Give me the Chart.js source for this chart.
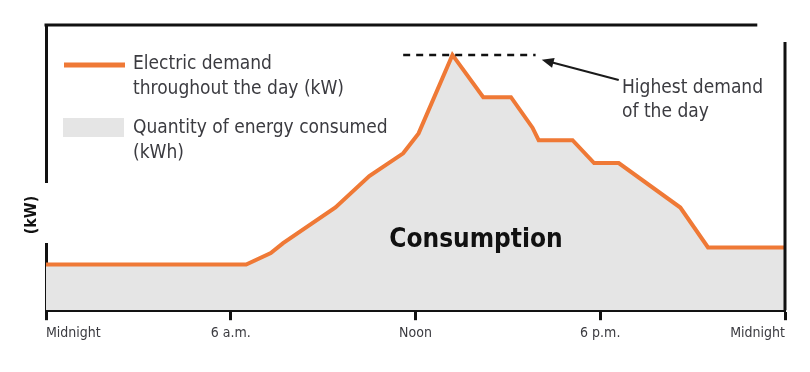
<!DOCTYPE html>
<html>
<head>
<meta charset="utf-8">
<script src="https://cdn.jsdelivr.net/npm/chart.js@4"></script>
<style>
  html, body { margin: 0; padding: 0; background: #fff; }
  #wrap { width: 810px; height: 372px; }
</style>
</head>
<body>
<div id="wrap"><canvas id="demandChart" width="810" height="372"></canvas></div>
<script>
// hours of the day (0 = midnight) and demand in kW
const hours  = [0, 6.5, 7.3, 7.7, 9.4, 10.5, 11.6, 12.1, 13.2, 14.2, 15.1, 15.8, 16.0, 17.1, 17.8, 18.6, 20.6, 21.5, 24];
const demand = [16, 16, 20, 23.5, 36, 47, 55, 62, 89.5, 74.7, 74.7, 64, 59.6, 59.6, 51.6, 51.6, 36, 22, 22];

const tickHours  = [0, 6, 12, 18, 24];
const tickLabels = ["Midnight", "6 a.m.", "Noon", "6 p.m.", "Midnight"];

// dashed peak marker and the arrow pointing to it
const peakHours  = [11.6, 15.9];
const peakValue  = 89.5;
const arrowFrom  = [18.6, 80.7];
const arrowTo    = [16.1, 87.8];

const narrow = "'Liberation Sans Narrow', 'DejaVu Sans Condensed', 'Roboto Condensed', sans-serif";
const orange = "#ef7936";
const fillGray = "#e5e5e5";
const textGray = "#3b3b40";

const decorations = {
  id: "decorations",
  afterDraw(chart) {
    const ctx = chart.ctx;
    const x = chart.scales.x, y = chart.scales.y;
    const area = chart.chartArea;
    ctx.save();

    // frame: top and right lines
    ctx.strokeStyle = "#111";
    ctx.lineWidth = 3;
    ctx.beginPath();
    ctx.moveTo(area.left - 1.5, area.top);
    ctx.lineTo(x.getPixelForValue(23.1), area.top);
    ctx.moveTo(area.right, y.getPixelForValue(94));
    ctx.lineTo(area.right, area.bottom);
    ctx.stroke();

    // break in the left axis for the (kW) label
    ctx.fillStyle = "#fff";
    ctx.fillRect(area.left - 4, 183, 8, 60);
    ctx.save();
    ctx.translate(32, 215);
    ctx.rotate(-Math.PI / 2);
    ctx.fillStyle = "#111";
    ctx.font = "bold 16px " + narrow;
    ctx.textAlign = "center";
    ctx.textBaseline = "middle";
    ctx.fillText("(kW)", 0, 0);
    ctx.restore();

    // arrow to the peak
    const fx = x.getPixelForValue(arrowFrom[0]), fy = y.getPixelForValue(arrowFrom[1]);
    const tx = x.getPixelForValue(arrowTo[0]), ty = y.getPixelForValue(arrowTo[1]);
    const ang = Math.atan2(ty - fy, tx - fx);
    ctx.strokeStyle = "#1a1a1a";
    ctx.fillStyle = "#1a1a1a";
    ctx.lineWidth = 2;
    ctx.beginPath();
    ctx.moveTo(fx, fy);
    ctx.lineTo(tx + Math.cos(ang) * -8, ty + Math.sin(ang) * -8);
    ctx.stroke();
    ctx.beginPath();
    ctx.moveTo(tx, ty);
    ctx.lineTo(tx - 13 * Math.cos(ang - 0.4), ty - 13 * Math.sin(ang - 0.4));
    ctx.lineTo(tx - 13 * Math.cos(ang + 0.4), ty - 13 * Math.sin(ang + 0.4));
    ctx.closePath();
    ctx.fill();

    // texts
    ctx.fillStyle = textGray;
    ctx.font = "19px " + narrow;
    ctx.textAlign = "left";
    ctx.textBaseline = "middle";
    ctx.fillText("Highest demand", 622, 88);
    ctx.fillText("of the day", 622, 112);

    ctx.fillText("Electric demand", 133, 64);
    ctx.fillText("throughout the day (kW)", 133, 89);
    ctx.fillText("Quantity of energy consumed", 133, 128);
    ctx.fillText("(kWh)", 133, 153);

    // legend swatches
    ctx.strokeStyle = orange;
    ctx.lineWidth = 5;
    ctx.beginPath();
    ctx.moveTo(64, 65);
    ctx.lineTo(125, 65);
    ctx.stroke();
    ctx.fillStyle = fillGray;
    ctx.fillRect(63, 118, 61, 19);

    ctx.fillStyle = "#111";
    ctx.font = "bold 26px " + narrow;
    ctx.textAlign = "center";
    ctx.fillText("Consumption", 476, 240);

    ctx.restore();
  }
};

new Chart(document.getElementById("demandChart"), {
  type: "line",
  data: {
    datasets: [
      {
        label: "Electric demand throughout the day (kW)",
        data: hours.map((h, i) => ({ x: h, y: demand[i] })),
        borderColor: orange,
        borderWidth: 4,
        backgroundColor: fillGray,
        fill: "origin",
        pointRadius: 0,
        tension: 0,
        order: 2
      },
      {
        label: "Highest demand of the day",
        data: peakHours.map(h => ({ x: h, y: peakValue })),
        borderColor: "#111",
        borderWidth: 2.5,
        borderDash: [7, 6],
        fill: false,
        pointRadius: 0,
        order: 1
      }
    ]
  },
  options: {
    responsive: false,
    animation: false,
    layout: { padding: { left: 38, right: 25, top: 25, bottom: 25 } },
    plugins: { legend: { display: false }, tooltip: { enabled: false } },
    scales: {
      x: {
        type: "linear",
        min: 0,
        max: 24,
        afterBuildTicks: scale => { scale.ticks = tickHours.map(v => ({ value: v })); },
        grid: { drawOnChartArea: false, drawTicks: true, tickLength: 10, tickWidth: 3, color: "#111" },
        border: { display: true, color: "#111", width: 3 },
        ticks: {
          align: "inner",
          color: textGray,
          padding: 5,
          font: { family: narrow, size: 14 },
          callback: (v, i) => tickLabels[i]
        }
      },
      y: {
        min: 0,
        max: 100,
        grid: { display: false },
        border: { display: true, color: "#111", width: 3 },
        ticks: { display: false }
      }
    }
  },
  plugins: [decorations]
});
</script>
</body>
</html>
